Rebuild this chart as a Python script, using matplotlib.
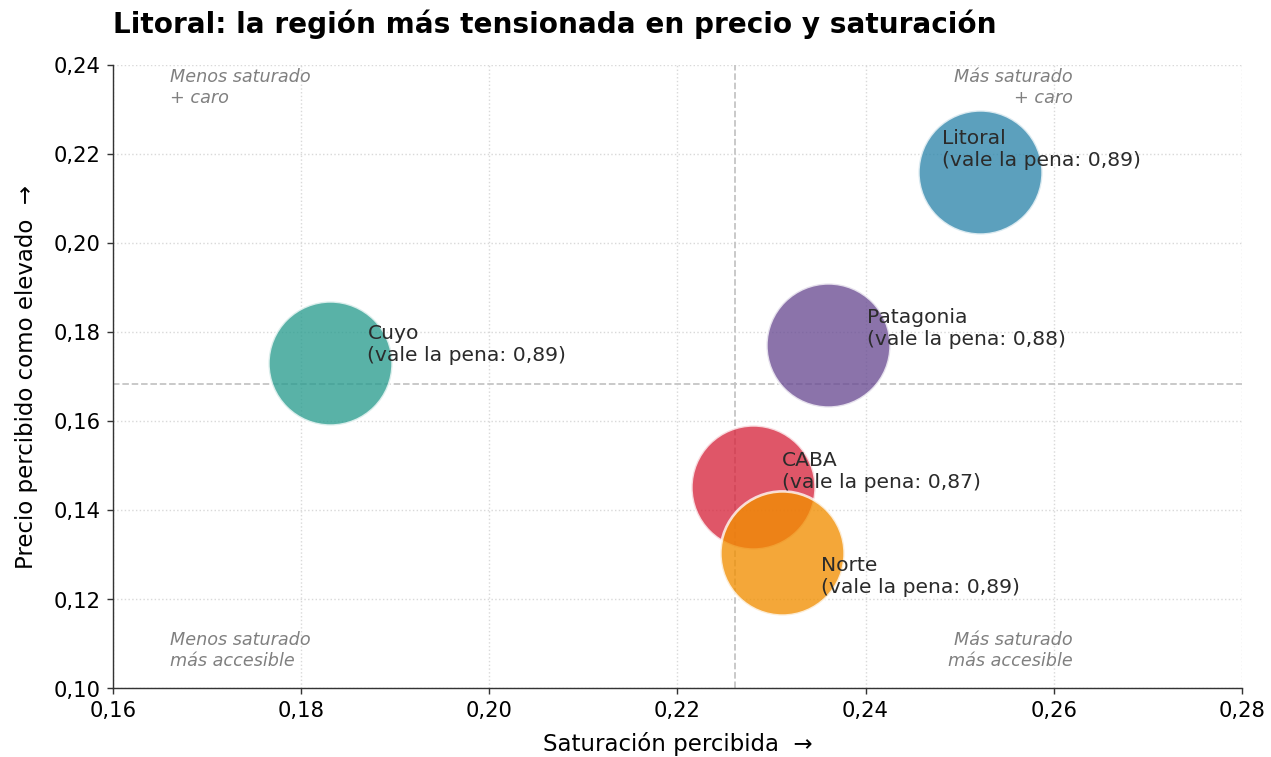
import matplotlib.pyplot as plt
import numpy as np
from matplotlib.ticker import FuncFormatter

# Datos por región
regiones = ['Cuyo', 'Litoral', 'Patagonia', 'CABA', 'Norte']
saturacion = [0.1831, 0.2522, 0.2360, 0.2280, 0.2311]
precio = [0.1730, 0.2160, 0.1770, 0.1452, 0.1303]
vale_la_pena = [0.89, 0.89, 0.88, 0.87, 0.89]
colores = ['#2A9D8F', '#2E86AB', '#6A4C93', '#D7263D', '#F18F01']

# desplazamiento de etiquetas (puntos)
offsets = {
    'Cuyo': (21, 11),
    'Litoral': (-21.5, 13),
    'Patagonia': (22, 10),
    'CABA': (16.5, 9),
    'Norte': (22, -13),
}

fig, ax = plt.subplots(figsize=(10.0, 5.96), dpi=127.1)

for reg, x, y, v, c in zip(regiones, saturacion, precio, vale_la_pena, colores):
    ax.scatter(x, y, s=4950, color=c, alpha=0.78, edgecolor='white', linewidth=1.5, zorder=3)
    ax.annotate(f"{reg}\n(vale la pena: {v:.2f})".replace('.', ','),
                (x, y), xytext=offsets[reg], textcoords='offset points',
                ha='left', va='center', fontsize=11.5, color='#2b2b2b', zorder=4)

ax.axvline(np.mean(saturacion), color='#c4c4c4', linestyle='--', linewidth=1, zorder=1)
ax.axhline(np.mean(precio), color='#c4c4c4', linestyle='--', linewidth=1, zorder=1)

kw = dict(transform=ax.transAxes, fontsize=10, style='italic', color='#808080')
ax.text(0.05, 0.995, 'Menos saturado\n+ caro', ha='left', va='top', **kw)
ax.text(0.85, 0.995, 'Más saturado\n+ caro', ha='right', va='top', multialignment='right', **kw)
ax.text(0.05, 0.03, 'Menos saturado\nmás accesible', ha='left', va='bottom', **kw)
ax.text(0.85, 0.03, 'Más saturado\nmás accesible', ha='right', va='bottom', multialignment='right', **kw)

ax.set_xlim(0.16, 0.28)
ax.set_ylim(0.10, 0.24)
ax.set_xticks(np.arange(0.16, 0.281, 0.02))
ax.set_yticks(np.arange(0.10, 0.241, 0.02))
fmt = FuncFormatter(lambda v, p: f"{v:.2f}".replace('.', ','))
ax.xaxis.set_major_formatter(fmt)
ax.yaxis.set_major_formatter(fmt)
ax.tick_params(labelsize=12, color='#333333')

ax.grid(True, linestyle=':', color='#d9d9d9', linewidth=0.8, zorder=0)
ax.set_axisbelow(True)
ax.spines['top'].set_visible(False)
ax.spines['right'].set_visible(False)
for s in ['left', 'bottom']:
    ax.spines[s].set_color('#333333')

ax.set_xlabel('Saturación percibida  →', fontsize=13, labelpad=6)
ax.set_ylabel('Precio percibido como elevado  →', fontsize=13, labelpad=9)
ax.set_title('Litoral: la región más tensionada en precio y saturación',
             loc='left', fontsize=15.8, fontweight='bold', pad=18)

fig.subplots_adjust(left=0.089, right=0.977, top=0.914, bottom=0.091)
fig.savefig('out.png', dpi=127.1)
